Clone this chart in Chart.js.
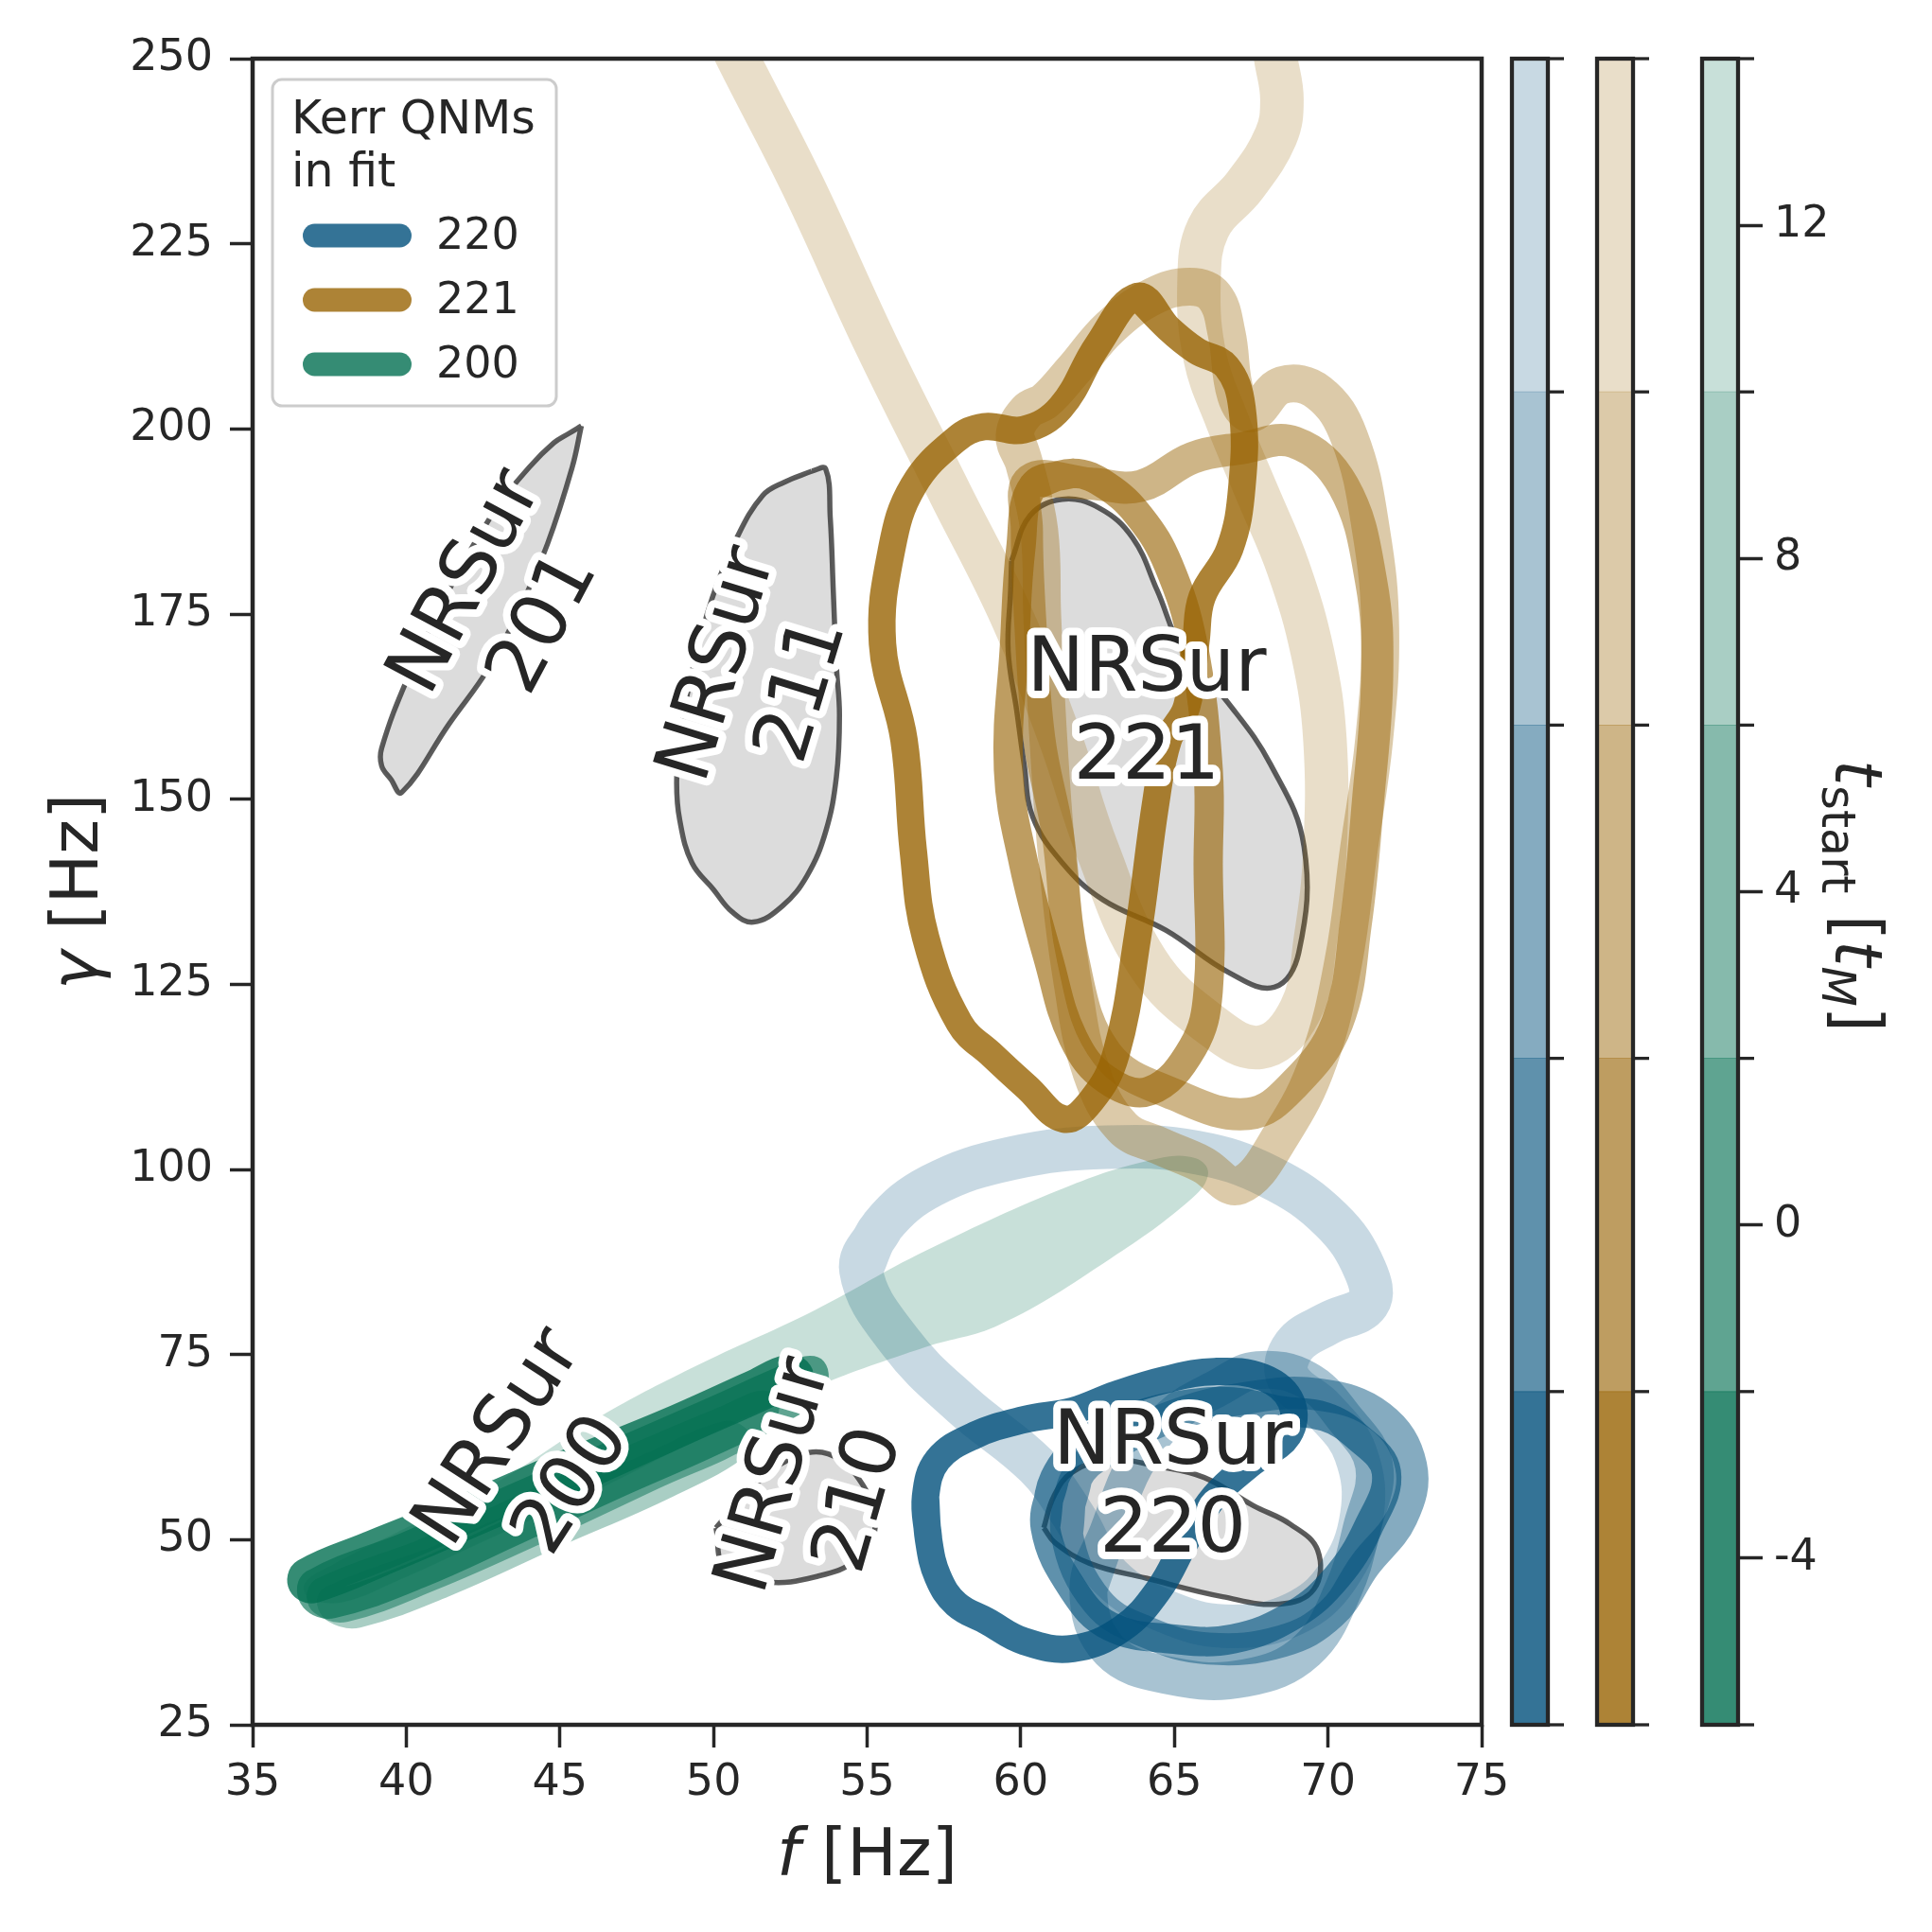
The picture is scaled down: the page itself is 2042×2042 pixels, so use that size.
<!DOCTYPE html>
<html><head><meta charset="utf-8">
<script src="https://cdn.jsdelivr.net/npm/chart.js@4"></script>
<style>
html,body{margin:0;padding:0;background:#fff;}
#wrap{position:relative;width:2042px;height:2042px;background:#fff;}
#wrap canvas{position:absolute;top:0;}
</style></head><body>
<div id="wrap">
<canvas id="main" width="2042" height="2042" style="left:0px"></canvas>
<canvas id="cb220" width="80" height="2042" style="left:1594px"></canvas>
<canvas id="cb221" width="80" height="2042" style="left:1684px"></canvas>
<canvas id="cb200" width="247" height="2042" style="left:1795px"></canvas>
</div>
<script>
// ---------- ticks / categories ----------
const X_TICKS = [35,40,45,50,55,60,65,70,75];
const Y_TICKS = [25,50,75,100,125,150,175,200,225,250];
const T_START = [-4,0,4,8,12];          // t_start bins (colorbar labels)
const CB_BOUNDS = [-6,-2,2,6,10,14];    // colorbar boundaries
const MODES = ['220','221','200'];

// ---------- Kerr 220 contours [f, gamma], one per t_start ----------
const Q220_TM4 = [[57.0,50.0],[56.9,55.8],[57.3,60.8],[58.5,64.1],[60.1,66.2],[61.7,67.4],[63.1,69.6],[64.7,71.6],[66.3,72.7],[67.9,71.9],[68.8,68.6],[68.7,64.1],[67.5,60.3],[66.3,55.8],[65.4,50.0],[64.5,43.3],[63.3,38.0],[61.7,35.3],[60.1,36.3],[58.9,39.0],[57.9,41.3],[57.3,45.0]];
const Q220_T0 = [[60.8,51.6],[61.1,58.3],[62.1,63.2],[63.7,66.6],[65.3,68.2],[66.9,68.6],[68.5,67.4],[69.9,66.6],[70.9,64.1],[71.9,59.1],[71.3,51.6],[70.3,45.0],[68.9,39.9],[66.9,36.6],[64.9,36.6],[62.9,38.3],[61.7,43.3]];
const Q220_T4 = [[61.5,50.8],[61.8,58.3],[62.9,62.4],[64.9,66.6],[67.3,69.1],[69.7,69.6],[71.7,66.6],[72.7,60.0],[72.4,53.0],[71.2,46.6],[70.1,40.0],[68.5,36.3],[66.1,35.3],[64.1,37.5],[62.5,41.6]];
const Q220_T8 = [[62.9,51.6],[62.2,43.3],[62.9,35.0],[64.9,31.6],[67.3,31.3],[69.3,35.0],[70.5,43.3],[71.1,51.6],[71.5,60.0],[70.5,66.6],[69.3,71.6],[67.7,72.9],[66.5,70.7],[64.9,66.6],[63.7,60.0]];
const Q220_T12 = [[54.8,86.4],[55.5,92.4],[57.1,97.8],[59.7,101.5],[62.8,103.0],[65.7,102.3],[68.1,99.0],[70.1,93.2],[71.2,86.5],[71.3,81.9],[70.0,79.2],[68.9,76.2],[68.7,71.9],[69.9,67.4],[70.9,61.6],[71.1,53.3],[70.3,45.0],[68.9,40.0],[66.9,38.3],[64.9,40.0],[62.9,45.0],[61.7,53.3],[60.5,60.0],[58.1,68.2],[56.1,76.6]];

// ---------- Kerr 221 contours ----------
const Q221_TM4 = [[63.8,217.9],[64.8,213.6],[65.7,210.6],[66.7,208.4],[67.2,202.9],[67.2,192.3],[66.8,183.8],[65.9,177.3],[65.7,171.3],[65.4,162.5],[64.8,158.0],[64.4,149.7],[63.8,131.4],[63.1,115.6],[62.3,109.3],[61.4,106.8],[60.2,111.1],[59.1,115.3],[58.0,119.8],[56.9,131.4],[56.5,143.1],[56.2,158.0],[55.5,171.0],[55.8,183.8],[56.5,192.3],[57.9,198.6],[58.8,200.3],[60.1,199.9],[61.3,202.9],[62.5,211.3]];
const Q221_T0 = [[60.4,192.3],[61.7,194.0],[62.8,192.3],[63.9,188.0],[64.8,181.7],[65.6,171.0],[66.1,154.0],[66.1,141.2],[66.1,124.1],[65.6,116.5],[64.2,110.6],[62.8,112.1],[61.7,117.8],[60.9,128.4],[60.1,141.2],[59.6,154.0],[59.8,171.0],[60.0,183.8]];
const Q221_T4 = [[60.3,193.1],[62.3,192.6],[63.9,192.3],[65.6,196.1],[67.2,197.4],[68.9,198.2],[70.5,192.3],[71.4,179.5],[71.6,166.7],[71.3,149.7],[70.9,133.1],[70.3,119.8],[68.9,111.5],[67.4,107.5],[65.0,110.1],[62.8,115.6],[61.7,128.4],[61.2,145.4],[60.6,158.2],[60.3,174.7],[60.2,186.3]];
const Q221_T8 = [[60.1,195.5],[59.8,199.1],[60.2,202.4],[60.8,203.8],[61.7,207.9],[62.9,213.7],[64.3,217.9],[65.5,219.2],[66.3,217.9],[66.7,212.9],[67.0,204.6],[67.5,202.1],[68.5,205.9],[69.7,204.9],[70.7,198.8],[71.4,186.3],[71.7,173.0],[71.5,158.0],[71.0,143.1],[70.5,128.1],[69.7,114.8],[68.5,104.8],[67.1,97.8],[65.9,100.7],[64.5,103.2],[63.3,105.7],[62.3,113.1],[61.7,124.8],[61.2,141.4],[60.9,158.0],[60.7,174.7],[60.6,186.3]];
const Q221_T12 = [[50.2,255.3],[50.8,250.0],[52.9,232.9],[55.3,211.3],[57.7,191.3],[59.7,174.7],[61.3,158.0],[62.5,143.1],[64.1,128.1],[66.1,119.8],[67.8,116.5],[69.1,121.5],[69.6,131.4],[69.9,143.1],[69.9,158.0],[69.5,169.7],[68.7,181.3],[67.7,191.3],[66.7,201.3],[66.0,209.6],[65.8,219.6],[66.1,227.1],[67.3,232.9],[68.3,239.5],[68.5,244.5],[68.3,250.0],[68.1,255.3]];

// ---------- Kerr 200 contours ----------
const Q200_TM4 = [[36.7,45.6],[38.8,49.3],[42.0,54.6],[45.2,60.3],[48.4,65.7],[51.2,70.9],[52.45,73.2],[52.8,72.2],[52.25,70.6],[49.2,64.9],[46.0,58.9],[42.8,53.3],[39.6,47.6],[37.0,43.3],[36.6,44.0]];
const Q200_T0 = [[37.0,44.1],[40.0,49.1],[43.6,55.8],[46.8,61.6],[50.0,67.4],[52.45,71.9],[53.2,72.9],[53.25,71.3],[52.8,69.1],[50.0,63.3],[46.8,57.4],[43.6,51.3],[40.4,45.3],[37.6,41.3],[37.0,42.1]];
const Q200_T4 = [[37.3,43.0],[40.4,47.9],[44.0,54.6],[47.6,61.3],[50.4,66.2],[51.65,68.2],[51.2,64.9],[48.0,58.6],[44.4,51.6],[40.8,45.0],[38.0,40.8],[37.3,41.6]];
const Q200_T8 = [[37.6,41.9],[40.8,46.9],[44.4,53.3],[48.0,59.9],[50.4,64.1],[50.8,62.9],[48.4,57.4],[44.8,50.8],[41.2,44.1],[38.4,40.0],[37.7,40.6]];
const Q200_T12 = [[36.8,41.6],[36.7,44.1],[37.6,46.6],[40.0,51.6],[42.8,57.4],[46.3,66.6],[49.3,73.2],[53.3,81.0],[56.9,89.0],[61.6,97.8],[64.5,101.5],[65.7,101.5],[66.1,99.5],[65.6,96.2],[62.9,87.9],[59.3,79.0],[56.9,76.0],[53.3,70.6],[49.2,62.9],[46.55,57.4],[42.8,50.3],[39.8,44.6],[38.0,41.6]];

// ---------- NRSur regions ----------
const NRSUR_201 = [[45.7,200.4],[45.4,194.8],[44.6,184.5],[43.7,175.8],[42.7,167.8],[41.4,160.2],[39.85,150.9],[39.5,152.7],[39.2,154.5],[39.2,156.9],[40.05,166.4],[41.4,178.3],[42.9,189.1],[44.0,194.8],[44.8,198.1],[45.3,199.4]];
const NRSUR_211 = [[53.2,194.3],[53.65,194.6],[53.8,188.0],[53.9,178.0],[54.0,168.0],[54.1,161.4],[54.0,153.0],[53.65,145.6],[53.05,139.7],[52.25,135.6],[51.3,133.4],[50.6,134.8],[50.0,137.8],[49.3,141.4],[48.9,147.2],[48.8,152.2],[48.9,158.0],[49.3,167.2],[49.96,177.2],[50.76,185.3],[51.6,191.0],[52.3,192.8]];
const NRSUR_221 = [[59.7,182.2],[60.3,188.3],[61.35,190.5],[62.56,189.3],[63.64,185.3],[64.44,178.2],[65.28,170.0],[66.77,162.9],[68.13,154.7],[69.22,143.6],[69.05,129.3],[68.25,124.6],[66.77,126.6],[64.72,132.3],[62.68,136.4],[61.35,141.4],[60.39,147.6],[60.11,154.7],[59.87,161.9],[59.59,170.0],[59.67,178.2]];
const NRSUR_220 = [[60.75,51.6],[61.07,55.8],[61.67,59.1],[62.88,60.8],[64.48,59.9],[65.97,58.4],[67.57,54.6],[68.77,52.1],[69.66,48.6],[69.54,43.3],[68.41,41.3],[66.57,42.3],[64.08,44.8],[62.24,46.8],[61.11,49.6]];
const NRSUR_210 = [[50.08,51.6],[50.36,46.3],[51.69,44.3],[53.33,45.0],[54.66,47.3],[55.26,51.6],[54.86,57.4],[53.73,61.6],[52.45,60.8],[51.16,56.6]];

// ---------- NRSur label anchors (f, gamma, rotation deg) ----------
const LABEL_TEXT = [['NRSur','201'],['NRSur','211'],['NRSur','221'],['NRSur','220'],['NRSur','200'],['NRSur','210']];
const LABEL_F = [43.05, 51.35, 64.1, 64.95, 44.05, 53.2];
const LABEL_G = [176.9, 166.7, 162.4, 58.0, 61.0, 57.2];
const LABEL_ROT = [-62, -73, 0, 0, -57, -74];

// ---------- styles ----------
const BASE = {'220':[1,80,124], '221':[152,100,4], '200':[2,111,81]};
const ALPHAS = [0.8, 0.63, 0.48, 0.34, 0.215];
const WIDTHS = [29, 31, 34, 40, 46];
const INK = '#262626';
const FONT = '"DejaVu Sans", "Liberation Sans", sans-serif';
const rgba = (c,a) => `rgba(${c[0]},${c[1]},${c[2]},${a})`;
const toXY = pts => pts.map(([x,y]) => ({x, y}));
const closeLoop = pts => [...pts, pts[0], pts[1]];

Chart.defaults.font.family = FONT;
Chart.defaults.color = INK;

const CONTOURS = {
  '220': [Q220_TM4, Q220_T0, Q220_T4, Q220_T8, Q220_T12],
  '221': [Q221_TM4, Q221_T0, Q221_T4, Q221_T8, Q221_T12],
  '200': [Q200_TM4, Q200_T0, Q200_T4, Q200_T8, Q200_T12]
};

const datasets = [];
[NRSUR_201, NRSUR_211, NRSUR_221, NRSUR_220, NRSUR_210].forEach(r => {
  datasets.push({
    data: toXY([...r, r[0]]), showLine: true, pointRadius: 0, tension: 0.4,
    fill: 'shape', backgroundColor: 'rgba(211,211,211,0.8)',
    borderColor: 'rgba(51,51,51,0.8)', borderWidth: 5.5, clip: 0, order: 100,
    borderJoinStyle: 'round'
  });
});
MODES.forEach((m, mi) => {
  CONTOURS[m].forEach((pts, i) => {
    const order = 10 + i * 3 + (2 - mi);
    if (m === '200' && i === 4) {
      datasets.push({ data: toXY([...pts, pts[0]]), showLine: true, pointRadius: 0, tension: 0.4,
        fill: 'shape', backgroundColor: rgba(BASE[m], ALPHAS[i]), borderColor: 'rgba(0,0,0,0)',
        borderWidth: 1, clip: 0, order });
    } else {
      const open = (m === '221' && i === 4);
      datasets.push({ data: toXY(open ? pts : closeLoop(pts)), showLine: true, pointRadius: 0,
        tension: 0.4, fill: false, borderColor: rgba(BASE[m], ALPHAS[i]),
        borderWidth: m === '200' ? Math.min(WIDTHS[i], 30) : WIDTHS[i],
        borderJoinStyle: 'round', borderCapStyle: 'round', clip: 0, order });
    }
  });
});

function drawMixed(ctx, pieces, x, y) {
  let total = 0;
  pieces.forEach(p => { ctx.font = `${p.it ? 'italic ' : ''}${p.size}px ${FONT}`; p.w = ctx.measureText(p.t).width; total += p.w; });
  let cx = x - total / 2;
  ctx.textAlign = 'left'; ctx.textBaseline = 'alphabetic';
  pieces.forEach(p => { ctx.font = `${p.it ? 'italic ' : ''}${p.size}px ${FONT}`; ctx.fillText(p.t, cx, y + (p.dy || 0)); cx += p.w; });
}

const mainDecor = {
  id: 'mainDecor',
  afterDraw(chart) {
    const {ctx, chartArea: a, scales: {x, y}} = chart;
    ctx.save();
    // spines
    ctx.strokeStyle = INK; ctx.lineWidth = 4.5;
    ctx.strokeRect(a.left, a.top, a.right - a.left, a.bottom - a.top);
    // NRSur labels
    ctx.font = `81px ${FONT}`; ctx.textAlign = 'center'; ctx.textBaseline = 'alphabetic';
    ctx.lineJoin = 'round';
    LABEL_TEXT.forEach((lines, k) => {
      const px = x.getPixelForValue(LABEL_F[k]), py = y.getPixelForValue(LABEL_G[k]);
      ctx.save(); ctx.translate(px, py); ctx.rotate(LABEL_ROT[k] * Math.PI / 180);
      ctx.strokeStyle = '#fff'; ctx.lineWidth = 16;
      ctx.strokeText(lines[0], 0, -17.5); ctx.strokeText(lines[1], 0, 75.5);
      ctx.fillStyle = INK;
      ctx.fillText(lines[0], 0, -17.5); ctx.fillText(lines[1], 0, 75.5);
      ctx.restore();
    });
    // legend
    const L = 288, T = 84, R = 588, B = 429, rad = 10;
    ctx.beginPath();
    ctx.moveTo(L + rad, T); ctx.lineTo(R - rad, T); ctx.arcTo(R, T, R, T + rad, rad);
    ctx.lineTo(R, B - rad); ctx.arcTo(R, B, R - rad, B, rad);
    ctx.lineTo(L + rad, B); ctx.arcTo(L, B, L, B - rad, rad);
    ctx.lineTo(L, T + rad); ctx.arcTo(L, T, L + rad, T, rad); ctx.closePath();
    ctx.fillStyle = 'rgba(255,255,255,0.8)'; ctx.fill();
    ctx.strokeStyle = '#cccccc'; ctx.lineWidth = 3; ctx.stroke();
    ctx.fillStyle = INK; ctx.font = `49px ${FONT}`; ctx.textAlign = 'left'; ctx.textBaseline = 'alphabetic';
    ctx.fillText('Kerr QNMs', 308, 141);
    ctx.fillText('in fit', 308, 197);
    [249, 317, 385].forEach((ly, k) => {
      ctx.strokeStyle = rgba(BASE[MODES[k]], ALPHAS[0]); ctx.lineWidth = 25; ctx.lineCap = 'round';
      ctx.beginPath(); ctx.moveTo(332.5, ly); ctx.lineTo(422.5, ly); ctx.stroke();
      ctx.fillStyle = INK; ctx.textBaseline = 'middle'; ctx.font = `46px ${FONT}`;
      ctx.fillText(MODES[k], 461, ly + 2);
    });
    // axis titles
    ctx.fillStyle = INK;
    drawMixed(ctx, [{t: 'f', it: true, size: 70}, {t: ' [Hz]', size: 70}], (a.left + a.right) / 2, 1982);
    ctx.save(); ctx.translate(103, (a.top + a.bottom) / 2); ctx.rotate(-Math.PI / 2);
    drawMixed(ctx, [{t: 'γ', it: true, size: 70}, {t: ' [Hz]', size: 70}], 0, 0);
    ctx.restore();
    ctx.restore();
  }
};

const tickGrid = {display: true, drawOnChartArea: false, drawTicks: true, tickLength: 24, tickWidth: 3.5, tickColor: INK};

new Chart(document.getElementById('main'), {
  type: 'scatter',
  data: {datasets},
  options: {
    responsive: false, animation: false, events: [],
    layout: {padding: {left: 0, top: 62, right: 2042 - 1566, bottom: 0}},
    scales: {
      x: {type: 'linear', min: 35, max: 75,
        afterBuildTicks: s => { s.ticks = X_TICKS.map(v => ({value: v})); },
        afterFit: s => { s.height = 2042 - 1823; },
        border: {display: false}, grid: tickGrid,
        ticks: {font: {size: 46}, color: INK, padding: 10, maxRotation: 0, autoSkip: false}},
      y: {type: 'linear', min: 25, max: 250,
        afterBuildTicks: s => { s.ticks = Y_TICKS.map(v => ({value: v})); },
        afterFit: s => { s.width = 267; },
        border: {display: false}, grid: tickGrid,
        ticks: {font: {size: 46}, color: INK, padding: 18, autoSkip: false}}
    },
    plugins: {legend: {display: false}, tooltip: {enabled: false}}
  },
  plugins: [mainDecor]
});

// ---------- colorbars ----------
const cbFrame = {
  id: 'cbFrame',
  afterDraw(chart) {
    const {ctx, chartArea: a, scales: {y}} = chart;
    ctx.save(); ctx.strokeStyle = INK; ctx.lineWidth = 4.3;
    ctx.strokeRect(a.left, a.top, a.right - a.left, a.bottom - a.top);
    ctx.lineWidth = 3.3;
    CB_BOUNDS.forEach(v => { const py = y.getPixelForValue(v); ctx.beginPath(); ctx.moveTo(a.right, py); ctx.lineTo(a.right + 17, py); ctx.stroke(); });
    if (chart.options.plugins.cbLabel) {
      ctx.fillStyle = INK;
      ctx.translate(145, 947); ctx.rotate(Math.PI / 2);
      drawMixed(ctx, [{t: 't', it: true, size: 70}, {t: 'start', size: 49, dy: 14}, {t: ' [', size: 70},
        {t: 't', it: true, size: 70}, {t: 'M', it: true, size: 49, dy: 14}, {t: ']', size: 70}], 0, 0);
    }
    ctx.restore();
  }
};

function makeColorbar(id, mode, withTicks) {
  const rgb = BASE[mode];
  new Chart(document.getElementById(id), {
    type: 'bar',
    data: {
      labels: [mode],
      datasets: T_START.map((t, i) => ({
        label: String(t), data: [[CB_BOUNDS[i], CB_BOUNDS[i + 1]]],
        backgroundColor: rgba(rgb, ALPHAS[i]), borderWidth: 0, grouped: false,
        barPercentage: 1, categoryPercentage: 1
      }))
    },
    options: {
      responsive: false, animation: false, events: [],
      layout: {padding: withTicks ? {left: 4, right: 0, top: 62, bottom: 219} : {left: 4, right: 38, top: 62, bottom: 219}},
      scales: {
        x: {display: false},
        y: withTicks ? {position: 'right', min: -6, max: 14,
            afterBuildTicks: s => { s.ticks = T_START.map(v => ({value: v})); },
            afterFit: s => { s.width = 205; },
            border: {display: false},
            grid: {display: true, drawOnChartArea: false, drawTicks: true, tickLength: 26, tickWidth: 3.5, tickColor: INK},
            ticks: {font: {size: 46}, color: INK, padding: 12}}
          : {display: false, min: -6, max: 14}
      },
      plugins: {legend: {display: false}, tooltip: {enabled: false}, cbLabel: withTicks}
    },
    plugins: [cbFrame]
  });
}
makeColorbar('cb220', '220', false);
makeColorbar('cb221', '221', false);
makeColorbar('cb200', '200', true);
</script>
</body></html>
